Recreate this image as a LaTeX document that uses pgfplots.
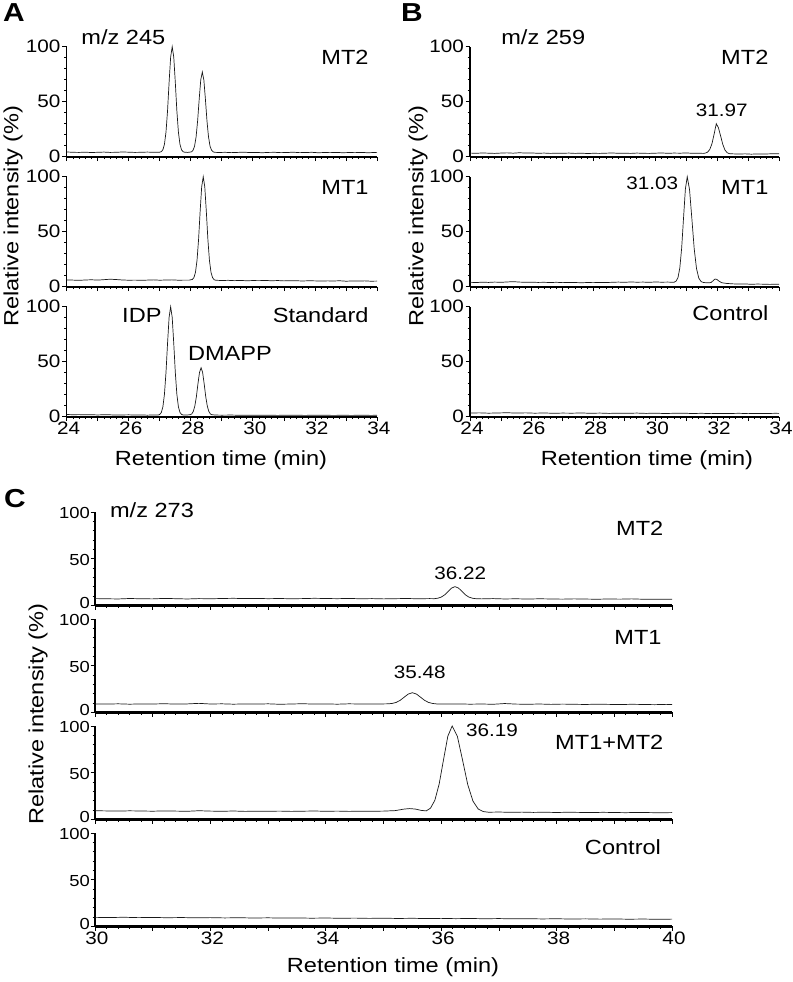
\documentclass[border=0pt]{standalone}
\usepackage{fontspec}
\setmainfont{Liberation Sans}[FakeStretch=1.15]
\usepackage{pgfplots}
\pgfplotsset{compat=1.18}
\pgfplotsset{
 chrom/.style={
  scale only axis, clip=false, anchor=south west,
  axis x line*=bottom, axis y line*=left,
  axis line style={-},
  ymin=0, ymax=100, ytick={0,50,100}, yticklabels={0,50,100},
  minor y tick num=4, minor x tick num=4,
  tick align=outside,
  major tick length=4.5bp, minor tick length=2.5bp,
  tick style={black, line width=0.8bp},
  every tick label/.append style={font=\fontsize{18bp}{20bp}\selectfont, text=black},
  yticklabel style={inner sep=1.5bp},
  xticklabel style={inner sep=1bp, xshift=2bp},
 },
 chromA/.style={chrom, width=310.3bp, height=110bp, xmin=24, xmax=34, xtick={24,...,34},
  x axis line style={line width=2bp}, y axis line style={line width=1.2bp}},
 chromC/.style={chrom, width=577bp, height=93.3bp, xmin=30, xmax=40, xtick={30,...,40},
  x axis line style={line width=3bp}, y axis line style={line width=2.5bp},
  ytick={50,100}, yticklabels={50,100},
  minor ytick={10,20,30,40,60,70,80,90},
  yticklabel style={font=\fontsize{16bp}{17bp}\selectfont, inner sep=0.5bp, yshift=-1bp},
  extra y ticks={0}, extra y tick labels={0},
  extra y tick style={yticklabel style={yshift=3.5bp}}},
 trace/.style={line width=0.7bp, black!90, no marks},
}
\begin{document}
\begin{tikzpicture}[font=\fontsize{20.5bp}{24bp}\selectfont]
\path[use as bounding box] (0,0) rectangle (793bp,-982bp);
% ---------------- Panel A ----------------
\node[font=\fontsize{26bp}{28bp}\bfseries\selectfont] at (14bp,-13bp) {A};
\node[rotate=90] at (13bp,-216bp) {Relative intensity (\%)};
\node at (221bp,-460bp) {Retention time (min)};
\begin{axis}[chromA, at={(66.7bp,-156.7bp)}, xticklabels={}]
\addplot[trace] coordinates {(24.0,4.3)(24.2,4.0)(24.4,3.9)(24.6,4.1)(24.8,3.8)(25.0,4.0)(25.2,4.2)(25.4,3.9)(25.6,4.0)(25.8,4.3)(26.0,4.1)(26.2,3.9)(26.4,4.0)(26.6,4.2)(26.8,4.0)(27.0,4.1)(27.05,4.6)(27.10,6.3)(27.15,11.3)(27.20,22.4)(27.25,41.8)(27.30,67.6)(27.35,90.6)(27.40,100)(27.45,90.6)(27.50,67.6)(27.55,41.8)(27.60,22.4)(27.65,11.3)(27.70,6.3)(27.75,4.6)(27.80,4.1)(27.90,3.9)(28.02,4.4)(28.07,5.8)(28.12,9.5)(28.17,18.0)(28.22,32.8)(28.27,52.3)(28.32,69.8)(28.37,77)(28.42,69.8)(28.47,52.3)(28.52,32.8)(28.57,18.0)(28.62,9.5)(28.67,5.8)(28.72,4.4)(28.77,4.0)(28.9,3.8)(29.1,4.0)(29.3,3.7)(29.5,3.9)(29.7,4.1)(29.9,3.8)(30.1,3.9)(30.3,3.6)(30.5,3.9)(30.7,4.0)(30.9,3.7)(31.1,3.8)(31.3,4.1)(31.5,3.7)(31.7,3.8)(31.9,4.0)(32.1,3.6)(32.3,3.8)(32.5,3.7)(32.7,3.9)(32.9,3.6)(33.1,3.8)(33.3,3.7)(33.5,3.9)(33.7,3.6)(33.9,3.8)(34.0,3.7)};
\node[anchor=east] at (rel axis cs:0.984,0.906) {MT2};
\node[anchor=west] at (rel axis cs:0.036,1.088) {m/z 245};
\end{axis}
\begin{axis}[chromA, at={(66.7bp,-286.7bp)}, xticklabels={}]
\addplot[trace] coordinates {(24.0,6.2)(24.2,6.0)(24.4,5.8)(24.6,6.1)(24.8,6.3)(25.0,6.0)(25.2,6.4)(25.4,6.8)(25.6,6.5)(25.8,6.1)(26.0,5.9)(26.2,6.0)(26.4,5.8)(26.6,6.0)(26.8,6.2)(27.0,5.9)(27.2,6.1)(27.4,6.2)(27.6,5.9)(27.8,6.0)(27.95,6.0)(28.05,6.6)(28.10,8.3)(28.15,13.1)(28.20,24.0)(28.25,43.0)(28.30,68.2)(28.35,90.8)(28.40,100)(28.45,90.8)(28.50,68.2)(28.55,43.0)(28.60,24.0)(28.65,13.1)(28.70,8.3)(28.75,6.4)(28.80,5.9)(29.0,5.6)(29.2,5.8)(29.4,5.5)(29.6,5.7)(29.8,5.4)(30.0,5.6)(30.2,5.5)(30.4,5.7)(30.6,5.4)(30.8,5.6)(31.0,5.3)(31.2,5.5)(31.4,5.4)(31.6,5.2)(31.8,5.4)(32.0,5.3)(32.2,5.1)(32.4,5.3)(32.6,5.2)(32.8,5.4)(33.0,5.0)(33.2,5.2)(33.4,5.1)(33.6,5.3)(33.8,5.0)(34.0,5.1)};
\node[anchor=east] at (rel axis cs:0.984,0.906) {MT1};
\end{axis}
\begin{axis}[chromA, at={(66.7bp,-416.7bp)}, xticklabels={24,,26,,28,,30,,32,,34}]
\addplot[trace] coordinates {(24.0,2.0)(24.2,1.8)(24.4,1.9)(24.6,1.7)(24.8,1.8)(25.0,1.6)(25.2,1.8)(25.4,1.7)(25.6,1.5)(25.8,1.6)(26.0,1.7)(26.2,1.5)(26.4,1.6)(26.6,1.4)(26.8,1.6)(26.95,1.5)(27.0,2.1)(27.05,3.9)(27.10,9.0)(27.15,20.4)(27.20,40.3)(27.25,66.7)(27.30,90.3)(27.35,100)(27.40,90.3)(27.45,66.7)(27.50,40.3)(27.55,20.4)(27.60,9.0)(27.65,3.9)(27.70,2.1)(27.75,1.6)(27.85,1.5)(27.98,1.8)(28.03,2.5)(28.08,4.8)(28.13,9.8)(28.18,18.4)(28.23,30.0)(28.28,40.3)(28.33,44.5)(28.38,40.3)(28.43,30.0)(28.48,18.4)(28.53,9.8)(28.58,4.8)(28.63,2.5)(28.68,1.8)(28.8,1.5)(29.0,1.4)(29.3,1.5)(29.6,1.3)(29.9,1.4)(30.2,1.3)(30.5,1.4)(30.8,1.2)(31.1,1.4)(31.4,1.3)(31.7,1.2)(32.0,1.4)(32.3,1.3)(32.6,1.2)(32.9,1.3)(33.2,1.2)(33.5,1.4)(33.8,1.2)(34.0,1.3)};
\node[anchor=east] at (rel axis cs:0.984,0.924) {Standard};
\node[anchor=east] at (axis cs:27.17,92.5) {IDP};
\node at (axis cs:29.26,57.6) {DMAPP};
\end{axis}
% ---------------- Panel B ----------------
\node[font=\fontsize{26bp}{28bp}\bfseries\selectfont] at (412bp,-13bp) {B};
\node[rotate=90] at (418bp,-216bp) {Relative intensity (\%)};
\node at (647bp,-460bp) {Retention time (min)};
\begin{axis}[chromA, at={(470bp,-156.7bp)}, width=309bp, xticklabels={}]
\addplot[trace] coordinates {(24.0,3.3)(24.2,3.1)(24.4,3.4)(24.6,3.2)(24.8,3.0)(25.0,3.3)(25.2,3.5)(25.4,3.2)(25.6,3.6)(25.8,3.3)(26.0,3.4)(26.2,3.1)(26.4,3.3)(26.6,3.0)(26.8,3.2)(27.0,3.1)(27.2,3.3)(27.4,3.0)(27.6,3.2)(27.8,2.9)(28.0,3.1)(28.2,3.0)(28.4,3.2)(28.6,3.4)(28.8,3.1)(29.0,3.2)(29.2,3.0)(29.4,3.3)(29.6,3.1)(29.8,3.0)(30.0,3.2)(30.2,3.4)(30.4,3.1)(30.6,3.3)(30.8,3.2)(31.0,3.4)(31.2,3.1)(31.4,3.2)(31.55,3.0)(31.62,3.3)(31.69,4.2)(31.76,6.6)(31.83,11.8)(31.90,20.5)(31.97,30.0)(32.04,26.3)(32.11,18.9)(32.18,11.3)(32.25,6.1)(32.32,3.7)(32.39,2.8)(32.5,2.6)(32.7,2.4)(32.9,2.6)(33.1,2.3)(33.3,2.5)(33.5,2.4)(33.7,2.6)(33.9,2.7)(34.0,2.6)};
\node[anchor=east] at (rel axis cs:0.977,0.906) {MT2};
\node[anchor=west] at (rel axis cs:0.09,1.088) {m/z 259};
\node[font=\fontsize{18bp}{20bp}\selectfont] at (axis cs:32.15,42.5) {31.97};
\end{axis}
\begin{axis}[chromA, at={(470bp,-286.7bp)}, width=309bp, xticklabels={}]
\addplot[trace] coordinates {(24.0,4.0)(24.2,3.8)(24.4,4.1)(24.6,3.9)(24.8,4.2)(25.0,4.0)(25.2,4.3)(25.4,4.6)(25.6,4.2)(25.8,4.0)(26.0,4.1)(26.2,3.9)(26.4,4.0)(26.6,3.8)(26.8,4.0)(27.0,3.7)(27.2,3.9)(27.4,3.8)(27.6,3.6)(27.8,3.8)(28.0,3.7)(28.2,3.9)(28.4,3.8)(28.6,4.0)(28.8,4.2)(29.0,4.0)(29.2,4.3)(29.4,4.1)(29.6,4.2)(29.8,4.0)(30.0,4.3)(30.2,4.1)(30.4,4.2)(30.6,4.0)(30.67,5.1)(30.73,8.2)(30.79,17.0)(30.85,35.2)(30.91,62.3)(30.97,88.7)(31.03,100)(31.105,88.2)(31.18,61.8)(31.255,34.7)(31.33,16.5)(31.405,7.7)(31.48,4.6)(31.56,3.8)(31.7,3.5)(31.8,3.8)(31.87,5.5)(31.93,7.0)(31.99,6.6)(32.06,5.0)(32.15,3.6)(32.3,3.0)(32.5,2.6)(32.7,2.4)(32.9,2.5)(33.1,2.2)(33.3,2.4)(33.5,2.3)(33.7,2.1)(33.9,2.3)(34.0,2.2)};
\node[anchor=east] at (rel axis cs:0.977,0.906) {MT1};
\node[font=\fontsize{18bp}{20bp}\selectfont] at (axis cs:29.9,94) {31.03};
\end{axis}
\begin{axis}[chromA, at={(470bp,-416.7bp)}, width=309bp, xticklabels={24,,26,,28,,30,,32,,34}]
\addplot[trace] coordinates {(24.0,3.3)(24.3,3.5)(24.6,3.2)(24.9,3.4)(25.2,3.6)(25.5,3.3)(25.8,3.5)(26.1,3.2)(26.4,3.4)(26.7,3.1)(27.0,3.3)(27.3,3.2)(27.6,3.4)(27.9,3.1)(28.2,3.3)(28.5,3.0)(28.8,3.2)(29.1,3.1)(29.4,3.3)(29.7,3.0)(30.0,3.2)(30.3,2.9)(30.6,3.1)(30.9,3.2)(31.2,2.9)(31.5,3.1)(31.8,2.8)(32.1,3.0)(32.4,2.9)(32.7,3.1)(33.0,2.8)(33.3,3.0)(33.6,2.9)(33.9,3.1)(34.0,3.0)};
\node[anchor=east] at (rel axis cs:0.977,0.94) {Control};
\end{axis}
% ---------------- Panel C ----------------
\node[font=\fontsize{26bp}{28bp}\bfseries\selectfont] at (15bp,-499bp) {C};
\node[rotate=90] at (38bp,-714bp) {Relative intensity (\%)};
\node at (393bp,-967bp) {Retention time (min)};
\begin{axis}[chromC, at={(95bp,-605.3bp)}, xticklabels={}]
\addplot[trace] coordinates {(30.0,7.2)(30.2,7.0)(30.4,6.8)(30.6,7.3)(30.8,7.0)(31.0,6.9)(31.2,7.4)(31.4,7.1)(31.6,6.8)(31.8,7.2)(32.0,7.0)(32.2,7.3)(32.4,7.5)(32.6,7.2)(32.8,7.4)(33.0,7.1)(33.2,7.3)(33.4,7.0)(33.6,7.2)(33.8,7.5)(34.0,7.3)(34.2,7.1)(34.4,7.4)(34.6,7.0)(34.8,7.2)(35.0,6.9)(35.2,7.1)(35.4,7.3)(35.6,7.0)(35.8,7.2)(35.88,7.1)(35.94,7.6)(36.00,8.8)(36.06,11.2)(36.12,14.9)(36.18,18.5)(36.24,20.0)(36.30,18.5)(36.36,14.9)(36.42,11.2)(36.48,8.8)(36.54,7.6)(36.60,7.1)(36.7,6.9)(36.9,7.2)(37.1,6.8)(37.3,7.0)(37.5,6.7)(37.7,7.0)(37.9,6.8)(38.1,6.6)(38.3,6.9)(38.5,6.7)(38.7,6.5)(38.9,6.8)(39.1,6.6)(39.3,6.9)(39.5,6.5)(39.7,6.4)(39.9,6.6)(40.0,6.5)};
\node[anchor=east] at (rel axis cs:0.991,0.83) {MT2};
\node[anchor=west] at (rel axis cs:0.02,1.02) {m/z 273};
\node[font=\fontsize{18bp}{20bp}\selectfont] at (axis cs:36.33,34.6) {36.22};
\end{axis}
\begin{axis}[chromC, at={(95bp,-712.3bp)}, xticklabels={}]
\addplot[trace] coordinates {(30.0,9.0)(30.2,8.8)(30.4,9.1)(30.6,8.7)(30.8,9.0)(31.0,8.9)(31.2,9.2)(31.4,8.8)(31.6,9.0)(31.8,9.6)(32.0,8.9)(32.2,9.1)(32.4,8.7)(32.6,9.0)(32.8,8.8)(33.0,9.1)(33.2,8.6)(33.4,8.9)(33.6,9.2)(33.8,8.8)(34.0,9.0)(34.2,8.7)(34.4,9.1)(34.6,8.9)(34.8,8.8)(35.0,9.0)(35.08,9.1)(35.15,9.5)(35.22,10.6)(35.29,12.9)(35.36,16.3)(35.43,19.6)(35.50,21.0)(35.57,19.6)(35.64,16.3)(35.71,12.9)(35.78,10.6)(35.85,9.5)(35.92,9.0)(36.1,8.8)(36.3,9.0)(36.5,8.7)(36.7,8.9)(36.9,8.6)(37.1,9.4)(37.3,8.8)(37.5,8.6)(37.7,8.9)(37.9,8.5)(38.1,8.8)(38.3,8.6)(38.5,8.4)(38.7,8.7)(38.9,8.5)(39.1,8.3)(39.3,8.6)(39.5,8.4)(39.7,8.2)(39.9,8.5)(40.0,8.3)};
\node[anchor=east] at (rel axis cs:0.988,0.807) {MT1};
\node[font=\fontsize{18bp}{20bp}\selectfont] at (axis cs:35.63,43.2) {35.48};
\end{axis}
\begin{axis}[chromC, at={(95bp,-819.3bp)}, xticklabels={}]
\addplot[trace] coordinates {(30.0,9.2)(30.2,9.0)(30.4,8.8)(30.6,9.1)(30.8,8.9)(31.0,8.7)(31.2,9.0)(31.4,8.8)(31.6,8.6)(31.8,9.2)(32.0,8.8)(32.2,8.6)(32.4,8.9)(32.6,8.5)(32.8,8.7)(33.0,8.6)(33.2,8.8)(33.4,8.5)(33.6,8.7)(33.8,8.9)(34.0,8.6)(34.2,8.8)(34.4,8.5)(34.6,8.7)(34.8,8.6)(35.0,8.8)(35.2,9.3)(35.35,10.9)(35.45,11.5)(35.55,11.0)(35.65,9.6)(35.74,9.0)(35.815,12.0)(35.89,20.4)(35.965,37.9)(36.04,63.8)(36.115,89.1)(36.19,100)(36.28,89.0)(36.37,63.5)(36.46,37.2)(36.55,19.6)(36.64,11.1)(36.73,8.3)(36.82,7.6)(37.0,7.8)(37.2,7.5)(37.4,7.7)(37.6,7.4)(37.8,7.6)(38.0,7.3)(38.2,7.6)(38.4,7.4)(38.6,7.2)(38.8,7.5)(39.0,7.3)(39.2,7.1)(39.4,7.4)(39.6,7.2)(39.8,7.0)(40.0,7.2)};
\node[anchor=east] at (rel axis cs:0.991,0.83) {MT1+MT2};
\node[font=\fontsize{18bp}{20bp}\selectfont] at (axis cs:36.88,95.7) {36.19};
\end{axis}
\begin{axis}[chromC, at={(95bp,-926.3bp)}, xticklabels={30,,32,,34,,36,,38,,40}]
\addplot[trace] coordinates {(30.0,9.6)(30.25,9.4)(30.5,9.7)(30.75,9.3)(31.0,9.5)(31.25,9.2)(31.5,9.4)(31.75,9.1)(32.0,9.3)(32.25,9.0)(32.5,9.2)(32.75,8.9)(33.0,9.1)(33.25,8.8)(33.5,9.0)(33.75,8.7)(34.0,8.9)(34.25,8.6)(34.5,8.8)(34.75,8.5)(35.0,8.7)(35.25,8.4)(35.5,8.6)(35.75,8.3)(36.0,8.5)(36.25,8.2)(36.5,8.4)(36.75,8.1)(37.0,8.3)(37.25,8.0)(37.5,8.2)(37.75,7.9)(38.0,8.1)(38.25,7.8)(38.5,8.0)(38.75,7.7)(39.0,7.9)(39.25,7.6)(39.5,7.8)(39.75,7.5)(40.0,7.7)};
\node[anchor=east] at (rel axis cs:0.987,0.853) {Control};
\end{axis}
\end{tikzpicture}
\end{document}
